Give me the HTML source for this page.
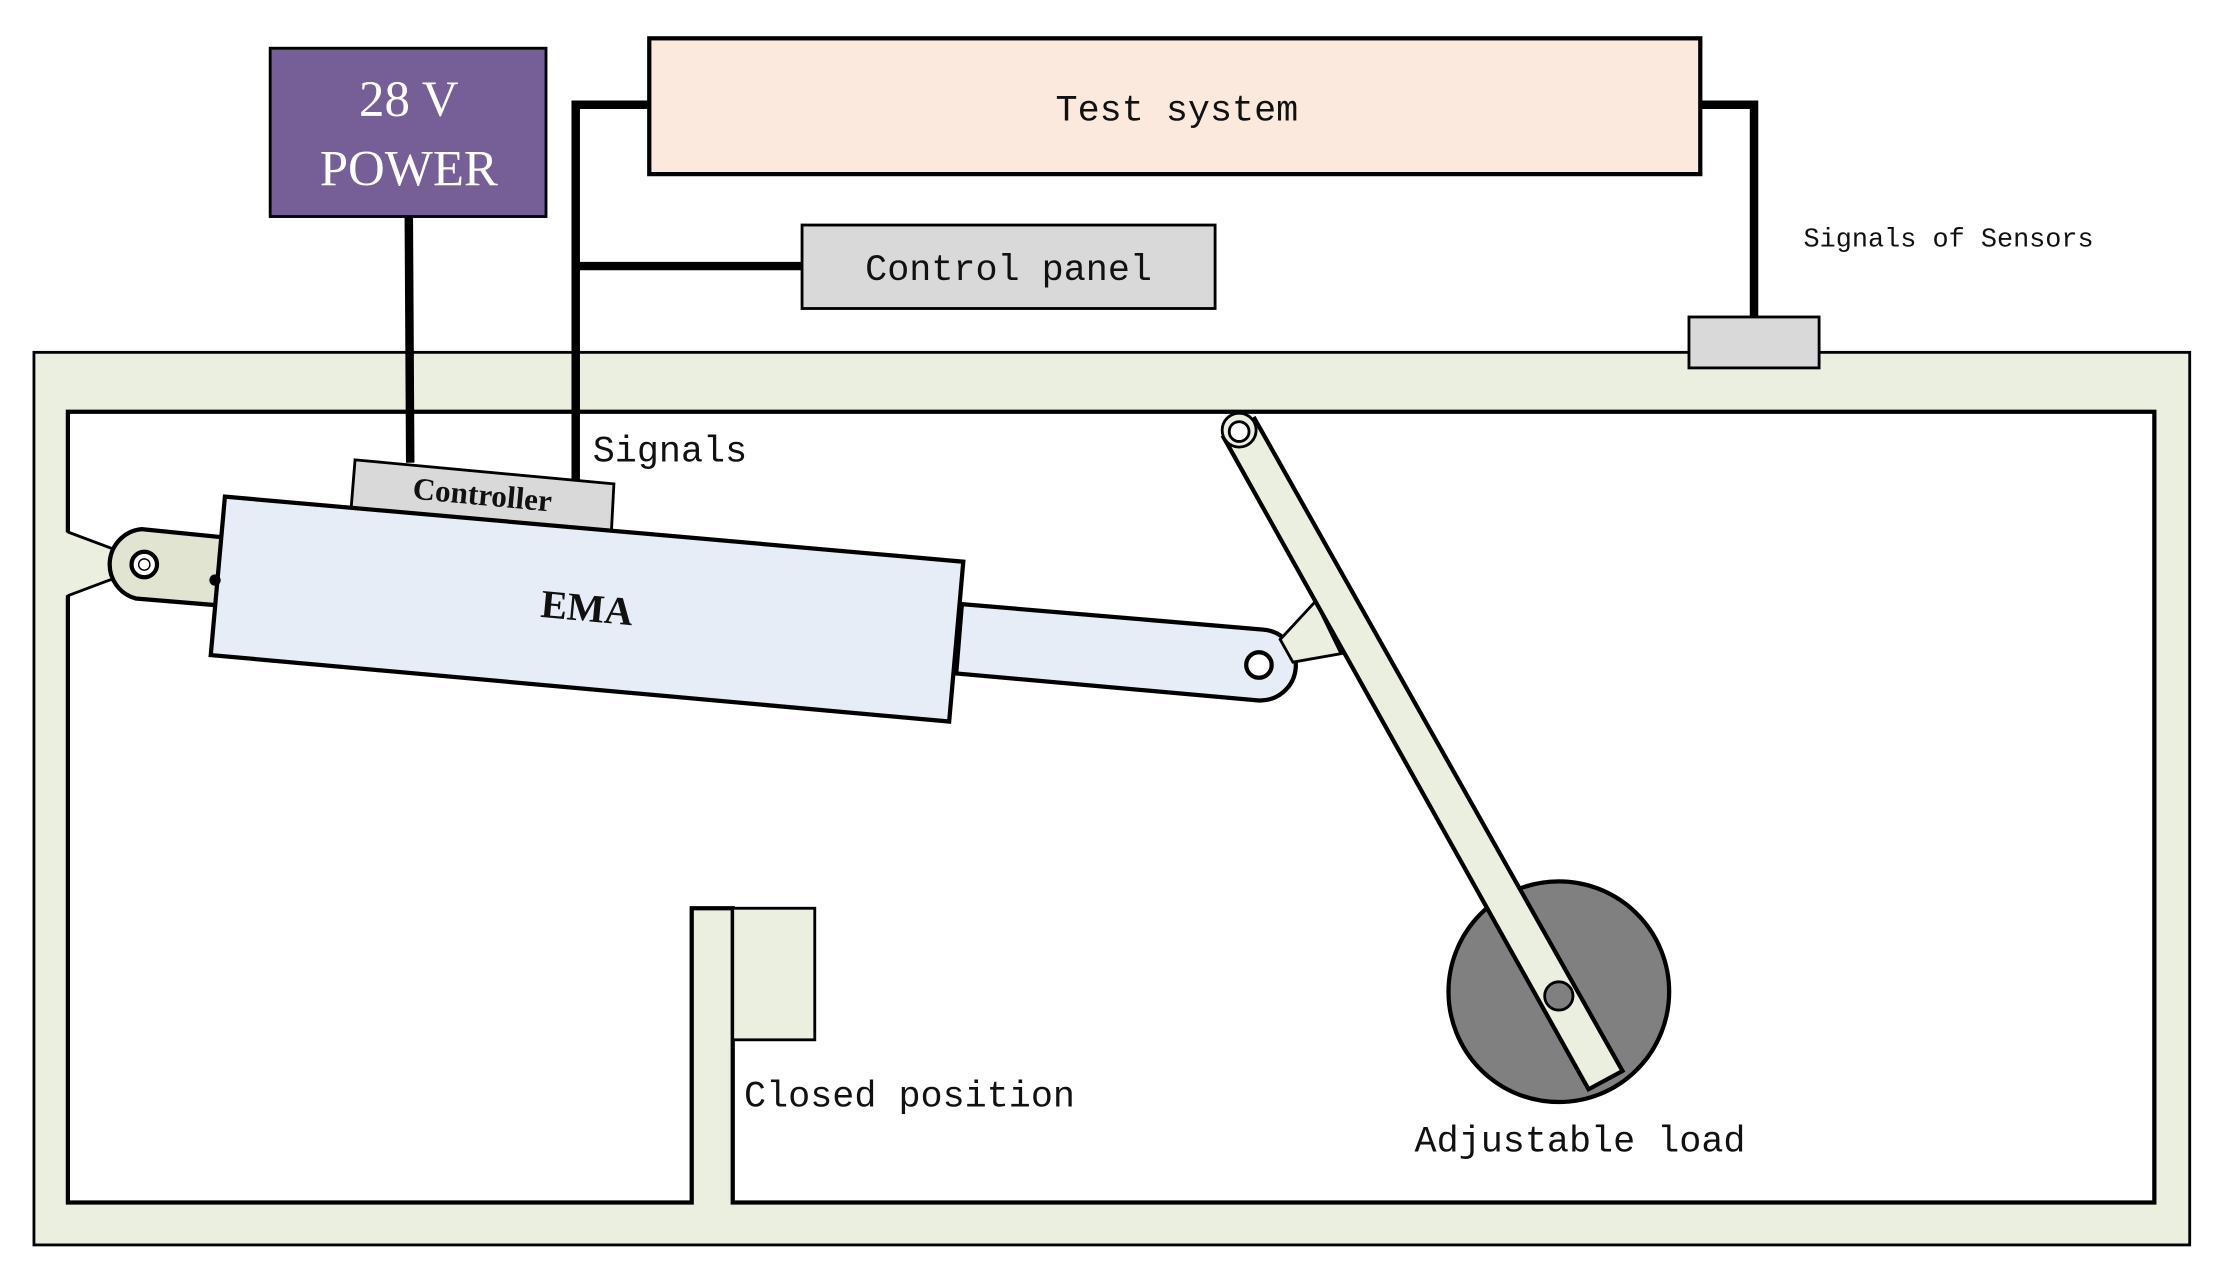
<!DOCTYPE html>
<html><head><meta charset="utf-8"><style>
html,body{margin:0;padding:0;background:#fff;}
svg{display:block;}
text{font-family:"Liberation Mono","DejaVu Sans Mono",monospace;fill:#111;}
</style></head><body>
<svg width="2218" height="1279" viewBox="0 0 1568 904" xmlns="http://www.w3.org/2000/svg">
<rect x="0" y="0" width="1568" height="904" fill="#fff"/>
<rect x="24" y="249" width="1524" height="631" fill="#ebefdf" stroke="#000" stroke-width="2"/>
<path d="M48,291 H1523 V850 H518 V642 H489 V850 H48 Z" fill="#fff" stroke="#000" stroke-width="3"/>
<rect x="518" y="642" width="58" height="93" fill="#ebefdf" stroke="#000" stroke-width="2"/>
<!-- left bracket -->
<polygon points="46,376 88,390 88,407 46,421" fill="#ebefdf"/>
<line x1="48" y1="376" x2="88" y2="391" stroke="#000" stroke-width="2"/>
<line x1="48" y1="421" x2="88" y2="406" stroke="#000" stroke-width="2"/>
<path d="M100,374 L160,380 L156,428 L96,423 A25,25 0 0 1 100,374 Z" fill="#e0e4d0" stroke="#000" stroke-width="3"/>
<circle cx="102" cy="399" r="9" fill="#fff" stroke="#000" stroke-width="3"/>
<circle cx="102" cy="399" r="4" fill="none" stroke="#000" stroke-width="1"/>
<path d="M680,427 L893,445 A25,25 0 0 1 889,495 L676,476 Z" fill="#e6edf7" stroke="#000" stroke-width="3"/>
<circle cx="890" cy="470" r="9" fill="#fff" stroke="#000" stroke-width="3"/>
<polygon points="905,452 930,425 948,462 914,468" fill="#ebefdf" stroke="#000" stroke-width="2"/>
<circle cx="1102" cy="701" r="78" fill="#808080" stroke="#000" stroke-width="3"/>
<polygon points="865,309 887,296 1147,757 1123,770" fill="#ebefdf" stroke="#000" stroke-width="3"/>
<circle cx="876" cy="304" r="12" fill="#ebefdf" stroke="#000" stroke-width="2"/>
<circle cx="876" cy="305" r="7" fill="#fff" stroke="#000" stroke-width="2"/>
<circle cx="1102" cy="704" r="10" fill="#808080" stroke="#000" stroke-width="2"/>
<polygon points="251,325 434,342 432,380 248,362" fill="#d9d9d9" stroke="#000" stroke-width="2"/>
<text x="341" y="357" font-size="22" font-weight="600" text-anchor="middle" transform="rotate(5.3 341 350)" style="font-family:'Liberation Serif',serif">Controller</text>
<polygon points="159,351 681,397 671,510 149,463" fill="#e6edf7" stroke="#000" stroke-width="3"/>
<text x="415" y="439" font-size="28" font-weight="600" text-anchor="middle" transform="rotate(5.3 415 430)" style="font-family:'Liberation Serif',serif">EMA</text>
<circle cx="152" cy="410" r="4" fill="#000"/>
<polyline points="289,153 290,327" fill="none" stroke="#000" stroke-width="6"/>
<polyline points="407,340 407,74 459,74" fill="none" stroke="#000" stroke-width="6"/>
<line x1="407" y1="188" x2="567" y2="188" stroke="#000" stroke-width="6"/>
<polyline points="1202,74 1240,74 1240,224" fill="none" stroke="#000" stroke-width="6"/>
<rect x="191" y="34" width="195" height="119" fill="#765e96" stroke="#000" stroke-width="2"/>
<text x="289" y="82" font-size="36" text-anchor="middle" style="fill:#fff;font-family:'Liberation Serif',serif">28 V</text>
<text x="289" y="131" font-size="36" text-anchor="middle" style="fill:#fff;font-family:'Liberation Serif',serif">POWER</text>
<rect x="459" y="27" width="743" height="96" fill="#fbe9dd" stroke="#000" stroke-width="3"/>
<text x="832" y="85" font-size="26" text-anchor="middle">Test system</text>
<rect x="567" y="159" width="292" height="59" fill="#d9d9d9" stroke="#000" stroke-width="2"/>
<text x="713" y="198" font-size="26" text-anchor="middle">Control panel</text>
<rect x="1194" y="224" width="92" height="36" fill="#d9d9d9" stroke="#000" stroke-width="2"/>
<text x="1275" y="174" font-size="19">Signals of Sensors</text>
<text x="419" y="326" font-size="26">Signals</text>
<text x="526" y="782" font-size="26">Closed position</text>
<text x="1000" y="814" font-size="26">Adjustable load</text>
</svg>
</body></html>
